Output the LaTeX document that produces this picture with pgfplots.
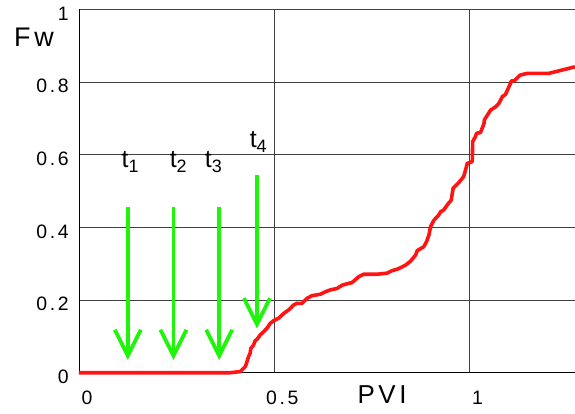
\documentclass[border=0pt]{standalone}
\usepackage{fontspec}
\setmainfont{Liberation Sans}
\newfontfamily\spacedfont[LetterSpace=14]{Liberation Sans}
\usepackage{pgfplots}
\pgfplotsset{compat=1.18}
\usetikzlibrary{arrows.meta}

\definecolor{curvered}{RGB}{255,20,20}
\definecolor{arrowgreen}{RGB}{30,245,10}

% water fractional flow at the outlet
\pgfplotstableread{
pvi    fw
0.000  0.000
0.387  0.000
0.413  0.003
0.426  0.017
0.430  0.030
0.434  0.044
0.438  0.053
0.440  0.067
0.447  0.076
0.451  0.088
0.456  0.092
0.464  0.104
0.473  0.113
0.481  0.122
0.490  0.136
0.498  0.143
0.511  0.150
0.524  0.163
0.537  0.173
0.549  0.186
0.558  0.191
0.571  0.191
0.584  0.205
0.597  0.212
0.618  0.216
0.631  0.223
0.644  0.228
0.661  0.232
0.674  0.241
0.691  0.246
0.699  0.248
0.716  0.264
0.729  0.271
0.763  0.271
0.789  0.274
0.802  0.281
0.815  0.285
0.823  0.289
0.836  0.296
0.849  0.307
0.862  0.324
0.866  0.336
0.883  0.347
0.890  0.361
0.896  0.379
0.900  0.402
0.909  0.420
0.921  0.434
0.926  0.443
0.934  0.448
0.943  0.462
0.953  0.475
0.958  0.508
0.973  0.524
0.985  0.540
0.992  0.567
0.994  0.576
1.007  0.581
1.008  0.636
1.015  0.650
1.018  0.659
1.028  0.661
1.037  0.686
1.038  0.696
1.054  0.723
1.067  0.732
1.075  0.741
1.084  0.760
1.092  0.766
1.103  0.792
1.107  0.803
1.114  0.803
1.129  0.819
1.148  0.824
1.203  0.824
1.270  0.842
}\fwdata

\tikzset{
  timearrow/.style={arrowgreen, line width=3.8bp,
    -{Straight Barb[length=26bp 0 0, width=26bp 0 0, line width=3.8bp]}},
  tlabel/.style={inner sep=0pt, anchor=center}
}
\newcommand{\tlab}[1]{{\fontsize{25}{25}\selectfont t}\raisebox{-5bp}{\fontsize{18}{18}\selectfont #1}}

\begin{document}
\begin{tikzpicture}
\useasboundingbox (-79bp,-41.3bp) rectangle (496bp,372.7bp);
\begin{axis}[
  scale only axis,
  width=496bp, height=363.3bp,
  xmin=0, xmax=1.27, ymin=0, ymax=1,
  axis x line*=bottom, axis y line*=left,
  axis line style={-, black, line width=0.9bp},
  xtick={0,0.5,1}, xticklabels={0,0.5,1},
  ytick={0,0.2,0.4,0.6,0.8,1}, yticklabels={0,0.2,0.4,0.6,0.8,1},
  /pgf/number format/assume math mode=true,
  tick style={draw=none},
  grid=major,
  major grid style={black!75, line width=0.8bp},
  ticklabel style={font=\spacedfont\fontsize{19.5}{19.5}\selectfont, inner sep=0pt},
  xticklabel style={anchor=center, yshift=-25.5bp, xshift=8bp},
  yticklabel style={anchor=east, xshift=-10bp, yshift=-4bp},
  xlabel={PVI},
  xlabel style={at={(rel axis cs:0.611,0)}, anchor=center, yshift=-22bp,
    inner sep=0pt, font=\spacedfont\fontsize{26}{26}\selectfont},
  ylabel={Fw},
  ylabel style={rotate=-90, at={(rel axis cs:0,0.924)}, anchor=center,
    xshift=-45bp, inner sep=0pt, font=\spacedfont\fontsize{27}{27}\selectfont},
  clip=false,
]
\addplot[curvered, line width=3.6bp, line join=round] table[x=pvi, y=fw] {\fwdata};

\addplot[timearrow] coordinates {(0.1249,0.457) (0.1249,0.035)};
\addplot[timearrow] coordinates {(0.2418,0.457) (0.2418,0.035)};
\addplot[timearrow] coordinates {(0.3590,0.457) (0.3590,0.035)};
\addplot[timearrow] coordinates {(0.4556,0.544) (0.4556,0.122)};

\node[tlabel] at (axis cs:0.131,0.580) {\tlab{1}};
\node[tlabel] at (axis cs:0.254,0.580) {\tlab{2}};
\node[tlabel] at (axis cs:0.344,0.580) {\tlab{3}};
\node[tlabel] at (axis cs:0.459,0.635) {\tlab{4}};
\end{axis}
\end{tikzpicture}
\end{document}
